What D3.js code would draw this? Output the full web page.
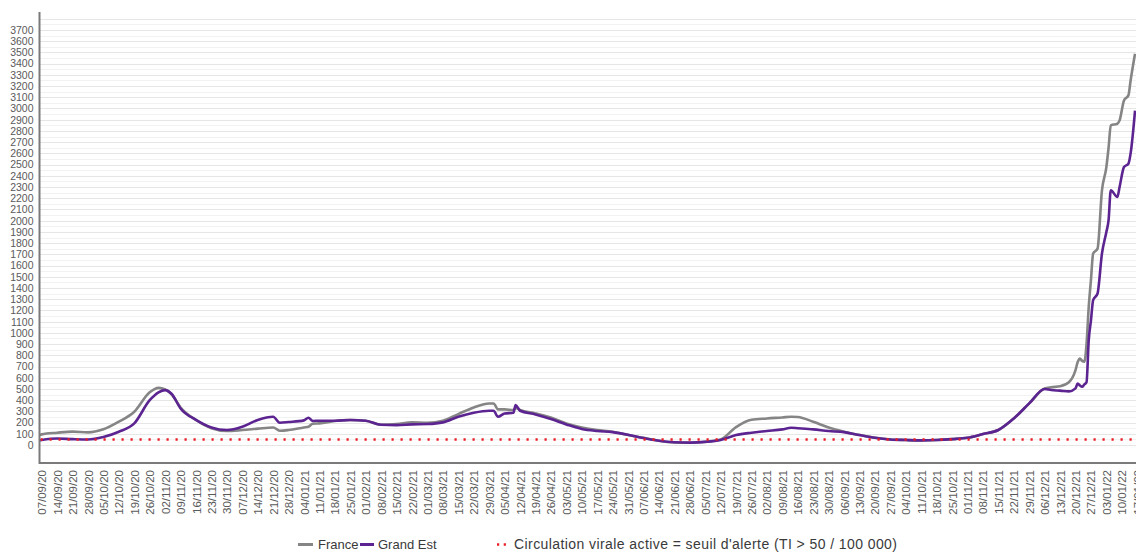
<!DOCTYPE html>
<html>
<head>
<meta charset="utf-8">
<script src="https://cdn.jsdelivr.net/npm/d3@7"></script>
<style>
  html, body { margin: 0; padding: 0; background: #fff; }
  svg { display: block; font-family: "Liberation Sans", Arial, sans-serif; }
</style>
</head>
<body>
<svg id="chart" width="1136" height="553"></svg>
<script>
// ---------------- DATA ----------------
const dates = ["06/09/20","07/09/20","14/09/20","21/09/20","28/09/20","05/10/20","12/10/20","19/10/20","26/10/20","30/10/20","02/11/20","05/11/20","09/11/20","16/11/20","23/11/20","30/11/20","07/12/20","14/12/20","21/12/20","24/12/20","28/12/20","04/01/21","06/01/21","08/01/21","11/01/21","18/01/21","25/01/21","01/02/21","08/02/21","15/02/21","22/02/21","01/03/21","08/03/21","15/03/21","22/03/21","29/03/21","31/03/21","02/04/21","05/04/21","09/04/21","10/04/21","12/04/21","19/04/21","26/04/21","03/05/21","10/05/21","17/05/21","24/05/21","31/05/21","07/06/21","14/06/21","21/06/21","28/06/21","05/07/21","12/07/21","19/07/21","26/07/21","02/08/21","09/08/21","13/08/21","16/08/21","23/08/21","30/08/21","06/09/21","13/09/21","20/09/21","27/09/21","04/10/21","11/10/21","18/10/21","25/10/21","01/11/21","08/11/21","15/11/21","22/11/21","29/11/21","06/12/21","09/12/21","13/12/21","17/12/21","20/12/21","21/12/21","22/12/21","23/12/21","24/12/21","25/12/21","26/12/21","27/12/21","28/12/21","30/12/21","01/01/22","03/01/22","04/01/22","05/01/22","08/01/22","09/01/22","11/01/22","13/01/22","14/01/22","16/01/22"];

const france = [90,95,110,120,113,140,208,297,470,510,496,450,335,223,150,125,134,146,157,128,134,157,163,190,193,214,223,217,181,187,202,199,217,276,335,371,371,318,318,312,330,312,282,245,193,157,134,119,89,65,39,24,21,30,50,160,225,237,246,252,250,208,157,119,89,65,50,45,42,45,53,65,98,134,237,371,504,515,524,560,668,740,772,750,742,900,1231,1470,1707,1751,2271,2478,2650,2850,2864,2894,3072,3117,3250,3488];

const grandEst = [42,45,58,53,50,72,119,193,400,470,490,455,326,225,157,134,163,223,252,199,205,220,243,215,217,217,223,217,181,178,184,187,202,252,288,306,306,252,282,288,356,306,273,232,184,143,125,115,92,62,38,25,22,28,45,89,110,125,140,154,150,140,125,115,89,65,50,45,42,45,53,65,98,134,237,371,500,490,485,478,505,549,530,519,540,560,935,1110,1291,1351,1707,1900,2004,2271,2211,2300,2478,2508,2600,2980];

const alertThreshold = [50];

const yTicks = [0,100,200,300,400,500,600,700,800,900,1000,1100,1200,1300,1400,1500,1600,1700,1800,1900,2000,2100,2200,2300,2400,2500,2600,2700,2800,2900,3000,3100,3200,3300,3400,3500,3600,3700];

const xTickLabels = ["07/09/20","14/09/20","21/09/20","28/09/20","05/10/20","12/10/20","19/10/20","26/10/20","02/11/20","09/11/20","16/11/20","23/11/20","30/11/20","07/12/20","14/12/20","21/12/20","28/12/20","04/01/21","11/01/21","18/01/21","25/01/21","01/02/21","08/02/21","15/02/21","22/02/21","01/03/21","08/03/21","15/03/21","22/03/21","29/03/21","05/04/21","12/04/21","19/04/21","26/04/21","03/05/21","10/05/21","17/05/21","24/05/21","31/05/21","07/06/21","14/06/21","21/06/21","28/06/21","05/07/21","12/07/21","19/07/21","26/07/21","02/08/21","09/08/21","16/08/21","23/08/21","30/08/21","06/09/21","13/09/21","20/09/21","27/09/21","04/10/21","11/10/21","18/10/21","25/10/21","01/11/21","08/11/21","15/11/21","22/11/21","29/11/21","06/12/21","13/12/21","20/12/21","27/12/21","03/01/22","10/01/22","17/01/22"];

const seriesNames = ["France", "Grand Est"];
const legendThresholdText = "Circulation virale active = seuil d'alerte (TI > 50 / 100 000)";

// ---------------- CHART ----------------
(function () {
const parse = d3.utcParse("%d/%m/%y");
const svg = d3.select("#chart");

const pLeft = 39.5, pRight = 1136, pTop = 12, pBottom = 463;

const x = d3.scaleUtc()
  .domain([parse("07/09/20"), parse("10/01/22")])
  .range([41.7, 1121.8]);

const y = d3.scaleLinear()
  .domain([-160, 3860])
  .range([pBottom, pTop]);

// gridlines (every 50)
const gridVals = d3.range(0, 3801, 50);
svg.append("g").selectAll("line")
  .data(gridVals).join("line")
  .attr("x1", pLeft).attr("x2", pRight)
  .attr("y1", d => Math.round(y(d)) + 0.5)
  .attr("y2", d => Math.round(y(d)) + 0.5)
  .attr("stroke", d => d % 100 === 0 ? "#e6e6e6" : "#f2f2f2")
  .attr("stroke-width", 1);

// y axis
const yAxis = svg.append("g")
  .attr("transform", `translate(${pLeft},0)`)
  .call(d3.axisLeft(y).tickValues(yTicks).tickFormat(d3.format("d"))
    .tickSize(0).tickSizeOuter(0).tickPadding(6));
yAxis.select(".domain").remove();
yAxis.selectAll("text")
  .attr("fill", "#5a5a5a")
  .style("font-size", "10.5px")
  .style("font-family", "'Liberation Sans', Arial, sans-serif");

// x axis
const xAxis = svg.append("g")
  .attr("transform", `translate(0,${pBottom})`)
  .call(d3.axisBottom(x)
    .tickValues(xTickLabels.map(parse))
    .tickFormat(d3.utcFormat("%d/%m/%y"))
    .tickSize(0).tickSizeOuter(0));
xAxis.select(".domain").remove();
xAxis.selectAll("text")
  .attr("transform", "rotate(-90)")
  .attr("text-anchor", "end")
  .attr("x", -7)
  .attr("y", 0)
  .attr("dy", "0.35em")
  .attr("fill", "#5a5a5a")
  .style("font-size", "11.5px")
  .style("font-family", "'Liberation Sans', Arial, sans-serif");

// series
const pts = (vals) => dates.map((d, i) => ({ date: parse(d), v: vals[i] }));
const line = d3.line()
  .x(d => x(d.date))
  .y(d => y(d.v))
  .curve(d3.curveMonotoneX);

svg.append("defs").append("clipPath").attr("id", "clip")
  .append("rect").attr("x", pLeft).attr("y", 0).attr("width", pRight - pLeft).attr("height", pBottom);

const plot = svg.append("g").attr("clip-path", "url(#clip)");

plot.append("path")
  .datum(pts(france))
  .attr("fill", "none")
  .attr("stroke", "#858585")
  .attr("stroke-width", 2.6)
  .attr("stroke-linejoin", "round")
  .attr("d", line);

plot.append("path")
  .datum(pts(grandEst))
  .attr("fill", "none")
  .attr("stroke", "#5c2491")
  .attr("stroke-width", 2.6)
  .attr("stroke-linejoin", "round")
  .attr("d", line);

// alert threshold dotted line
plot.selectAll("line.alert")
  .data(alertThreshold).join("line")
  .attr("class", "alert")
  .attr("x1", pLeft + 1).attr("x2", pRight)
  .attr("y1", d => y(d)).attr("y2", d => y(d))
  .attr("stroke", "#ea1c24")
  .attr("stroke-width", 2.4)
  .attr("stroke-dasharray", "2.2,6.8");

// axis lines
svg.append("line")
  .attr("x1", pLeft).attr("x2", pLeft).attr("y1", pTop).attr("y2", pBottom + 1)
  .attr("stroke", "#7a7a7a").attr("stroke-width", 2);
svg.append("line")
  .attr("x1", pLeft).attr("x2", pRight).attr("y1", pBottom).attr("y2", pBottom)
  .attr("stroke", "#7a7a7a").attr("stroke-width", 2);

// legend
const lg = svg.append("g").style("font-size", "13px").attr("fill", "#3a3a3a");
const ly = 544.5;
lg.append("line").attr("x1", 298).attr("x2", 313).attr("y1", ly).attr("y2", ly)
  .attr("stroke", "#858585").attr("stroke-width", 3);
lg.append("text").attr("x", 318).attr("y", ly).attr("dy", "0.35em").text(seriesNames[0]);
lg.append("line").attr("x1", 360).attr("x2", 374).attr("y1", ly).attr("y2", ly)
  .attr("stroke", "#5c2491").attr("stroke-width", 3);
lg.append("text").attr("x", 378).attr("y", ly).attr("dy", "0.35em").text(seriesNames[1]);
lg.append("line").attr("x1", 497).attr("x2", 508).attr("y1", ly).attr("y2", ly)
  .attr("stroke", "#ea1c24").attr("stroke-width", 2.4).attr("stroke-dasharray", "2.2,4.5");
lg.append("text").attr("x", 514).attr("y", ly).attr("dy", "0.35em")
  .style("font-size", "14px")
  .attr("textLength", 383).attr("lengthAdjust", "spacing")
  .text(legendThresholdText);
})();
</script>
</body>
</html>
